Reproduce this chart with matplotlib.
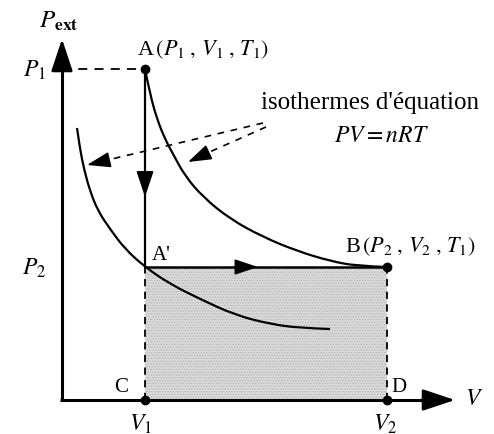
import matplotlib
matplotlib.use("Agg")
import matplotlib.pyplot as plt
from matplotlib.path import Path
from matplotlib.patches import PathPatch, Rectangle, FancyArrowPatch

plt.rcParams["font.family"] = ["Liberation Serif", "DejaVu Serif"]
plt.rcParams["mathtext.fontset"] = "stix"
plt.rcParams["hatch.linewidth"] = 0.6

# States of the gas (arbitrary units)
V1, V2 = 0.83, 3.25
P1, P2 = 3.31, 1.33

# Isotherm through A and B (temperature T1)
iso_hi_V = [0.83, 0.88, 0.95, 1.03, 1.11, 1.23, 1.41, 1.68, 2.01, 2.35, 2.68, 2.95, 3.25]
iso_hi_P = [3.31, 3.06, 2.81, 2.61, 2.46, 2.24, 2.03, 1.81, 1.63, 1.49, 1.39, 1.34, 1.33]

# Lower isotherm through A'
iso_lo_V = [0.15, 0.18, 0.22, 0.28, 0.36, 0.48, 0.63, 0.83, 1.08, 1.38, 1.73, 2.08, 2.38, 2.68]
iso_lo_P = [2.72, 2.51, 2.31, 2.09, 1.89, 1.71, 1.51, 1.33, 1.16, 1.01, 0.85, 0.76, 0.72, 0.71]

fig = plt.figure(figsize=(4.94, 4.35), dpi=100)
ax = fig.add_axes([0, 0, 1, 1])
ax.set_xlim(-0.62, 4.32)
ax.set_ylim(-0.34, 4.01)
ax.axis("off")


def smooth_curve(xs, ys, **kw):
    pts = list(zip(xs, ys))
    verts = [pts[0]]
    codes = [Path.MOVETO]
    n = len(pts)
    for i in range(1, n - 1):
        if i < n - 2:
            end = ((pts[i][0] + pts[i + 1][0]) / 2, (pts[i][1] + pts[i + 1][1]) / 2)
        else:
            end = pts[n - 1]
        verts += [pts[i], end]
        codes += [Path.CURVE3, Path.CURVE3]
    ax.add_patch(PathPatch(Path(verts, codes), fill=False, **kw))


def arrow_head(tail, tip, scale=18, lw=1.2):
    ax.add_patch(FancyArrowPatch(tail, tip, arrowstyle="-|>,head_length=0.9,head_width=0.3",
                                 mutation_scale=scale, color="black", lw=lw,
                                 shrinkA=0, shrinkB=0, zorder=5))


# Work area under the isobaric expansion
ax.add_patch(Rectangle((V1, 0), V2 - V1, P2, facecolor="#dadada", edgecolor="#b4b4b4",
                       hatch="......", lw=0, zorder=1))

# Axes with arrows
ax.plot([-0.02, 3.7], [0, 0], color="black", lw=2.2, zorder=4, solid_capstyle="butt")
ax.plot([0, 0], [0, 3.4], color="black", lw=2.2, zorder=4, solid_capstyle="butt")
arrow_head((3.6, 0), (3.93, 0), scale=22, lw=2)
arrow_head((0, 3.3), (0, 3.61), scale=22, lw=2)

# Dashed guide lines
ax.plot([0, V1], [P1, P1], color="black", lw=1.3, ls=(0, (5, 4)), zorder=3)
ax.plot([V1, V1], [0, P2], color="black", lw=1.3, ls=(0, (4, 3)), zorder=3)
ax.plot([V2, V2], [0, P2], color="black", lw=1.3, ls=(0, (4, 3)), zorder=3)

# Isotherms
smooth_curve(iso_hi_V, iso_hi_P, color="black", lw=1.6, zorder=4)
smooth_curve(iso_lo_V, iso_lo_P, color="black", lw=1.6, zorder=4)

# Transformation A -> A' -> B
ax.plot([V1, V1], [P1, P2], color="black", lw=1.6, zorder=4)
ax.plot([V1, V2], [P2, P2], color="black", lw=1.8, zorder=4)
arrow_head((V1, 2.3), (V1, 2.03), scale=18)
arrow_head((1.72, P2), (1.96, P2), scale=16)

# States A, B, C, D
ax.plot([V1, V2, V1, V2], [P1, P2, 0, 0], "o", color="black", ms=6, zorder=6)

# Leader lines towards the isotherms
ax.plot([2.01, 0.33], [2.77, 2.37], color="black", lw=1.2, ls=(0, (4, 4)), zorder=3)
arrow_head((0.40, 2.385), (0.25, 2.35), scale=16)
ax.plot([2.04, 1.34], [2.73, 2.42], color="black", lw=1.2, ls=(0, (4, 4)), zorder=3)
arrow_head((1.40, 2.445), (1.26, 2.38), scale=16)

ax.text(-0.03, 3.80, r"$P_{\mathbf{ext}}$", fontsize=18, ha="center", va="center")
ax.text(-0.16, P1, r"$P_1$", fontsize=17, ha="right", va="center")
ax.text(-0.16, P2, r"$P_2$", fontsize=17, ha="right", va="center")
ax.text(0.75, 3.51, r"A$\,(P_1\;,\,V_1\;,\,T_1)$", fontsize=16, ha="left", va="center")
ax.text(0.90, 1.45, "A'", fontsize=15, ha="left", va="center")
ax.text(2.83, 1.54, r"B$\,(P_2\;,\,V_2\;,\,T_1)$", fontsize=16, ha="left", va="center")
ax.text(0.59, 0.13, "C", fontsize=15, ha="center", va="center")
ax.text(3.37, 0.13, "D", fontsize=15, ha="center", va="center")
ax.text(0.78, -0.23, r"$V_1$", fontsize=17, ha="center", va="center")
ax.text(3.23, -0.23, r"$V_2$", fontsize=17, ha="center", va="center")
ax.text(4.12, 0.01, r"$V$", fontsize=17, ha="center", va="center")
ax.text(3.08, 2.98, "isothermes d'équation", fontsize=18, ha="center", va="center")
ax.text(3.20, 2.64, r"$PV = nRT$", fontsize=17, ha="center", va="center")

fig.savefig("out.png", dpi=100)
